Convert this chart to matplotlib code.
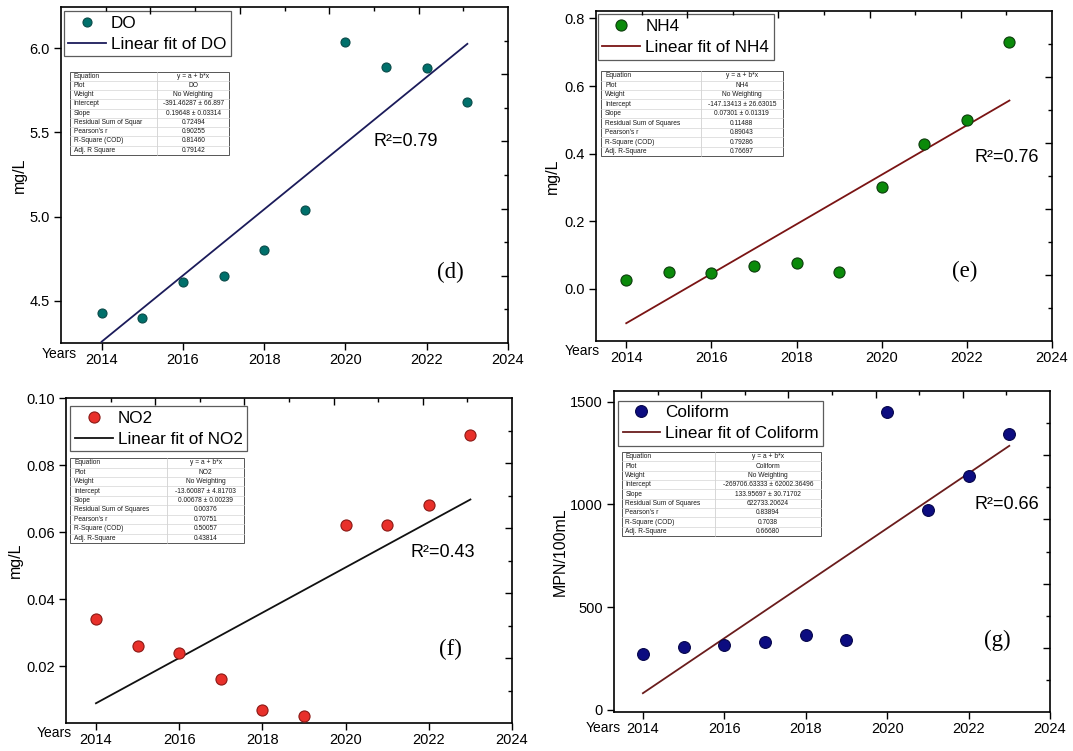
import numpy as np
import matplotlib
matplotlib.use("Agg")
import matplotlib.pyplot as plt
from matplotlib.patches import Rectangle
from matplotlib.ticker import FormatStrFormatter

# ---------------- data ----------------
years = [2014, 2015, 2016, 2017, 2018, 2019, 2020, 2021, 2022, 2023]
do_values = [4.43, 4.40, 4.61, 4.65, 4.80, 5.04, 6.04, 5.89, 5.88, 5.68]
nh4_values = [0.025, 0.051, 0.046, 0.069, 0.077, 0.051, 0.30, 0.43, 0.50, 0.73]
no2_values = [0.034, 0.026, 0.024, 0.016, 0.007, 0.005, 0.062, 0.062, 0.068, 0.089]
coliform_values = [271, 304, 317, 330, 366, 340, 1448, 972, 1137, 1343]

series_names = ["DO", "NH4", "NO2", "Coliform"]
y_titles = ["mg/L", "mg/L", "mg/L", "MPN/100mL"]
r2_labels = ["R²=0.79", "R²=0.76", "R²=0.43", "R²=0.66"]
panel_labels = ["(d)", "(e)", "(f)", "(g)"]
x_ticks = [2014, 2016, 2018, 2020, 2022, 2024]
y_ticks_do = [4.5, 5.0, 5.5, 6.0]
y_ticks_nh4 = [0.0, 0.2, 0.4, 0.6, 0.8]
y_ticks_no2 = [0.02, 0.04, 0.06, 0.08, 0.10]
y_ticks_coliform = [0, 500, 1000, 1500]

table_rows = ["Equation", "Plot", "Weight", "Intercept", "Slope",
              "Residual Sum of Squares", "Pearson's r", "R-Square (COD)",
              "Adj. R-Square"]
do_table_rows = ["Equation", "Plot", "Weight", "Intercept", "Slope",
                 "Residual Sum of Squar", "Pearson's r", "R-Square (COD)",
                 "Adj. R Square"]
do_stats = ["y = a + b*x", "DO", "No Weighting", "-391.46287 ± 66.897",
            "0.19648 ± 0.03314", "0.72494", "0.90255", "0.81460", "0.79142"]
nh4_stats = ["y = a + b*x", "NH4", "No Weighting", "-147.13413 ± 26.63015",
             "0.07301 ± 0.01319", "0.11488", "0.89043", "0.79286", "0.76697"]
no2_stats = ["y = a + b*x", "NO2", "No Weighting", "-13.60087 ± 4.81703",
             "0.00678 ± 0.00239", "0.00376", "0.70751", "0.50057", "0.43814"]
coliform_stats = ["y = a + b*x", "Coliform", "No Weighting",
                  "-269706.63333 ± 62002.36496", "133.95697 ± 30.71702",
                  "622733.20624", "0.83894", "0.7038", "0.66680"]

# ---------------- style / layout ----------------
plt.rcParams['font.family'] = ['Liberation Sans', 'DejaVu Sans']

W, H = 1073, 751
def box(l, r, t, b):
    return [l / W, 1 - b / H, (r - l) / W, (b - t) / H]

panels = [
    dict(vals=do_values, name=series_names[0], ytitle=y_titles[0], r2=r2_labels[0],
         plabel=panel_labels[0], yticks=y_ticks_do, fmt='%.1f',
         pos=box(61, 508, 7, 343), xlim=(2013.0, 2024), ylim=(4.25, 6.245),
         mfc='#00706b', mec='#0a4a48', ms=6.5, lc='#1b1b5a',
         rows=do_table_rows, stats=do_stats,
         leg=(0.006, 0.988), tab=(0.02, 0.56, 0.376, 0.808), split=0.55,
         r2pos=(0.70, 0.60), plpos=(0.87, 0.21), ylab_x=-0.077, years=(-0.005, -0.034)),
    dict(vals=nh4_values, name=series_names[1], ytitle=y_titles[1], r2=r2_labels[1],
         plabel=panel_labels[1], yticks=y_ticks_nh4, fmt='%.1f',
         pos=box(596, 1052, 11, 341), xlim=(2013.29, 2024), ylim=(-0.154, 0.822),
         mfc='#0a8a0a', mec='#0d3d0d', ms=8, lc='#7a1414',
         rows=table_rows, stats=nh4_stats,
         leg=(0.004, 0.99), tab=(0.012, 0.56, 0.409, 0.818), split=0.55,
         r2pos=(0.83, 0.555), plpos=(0.808, 0.21), ylab_x=-0.08, years=(-0.03, -0.030)),
    dict(vals=no2_values, name=series_names[2], ytitle=y_titles[2], r2=r2_labels[2],
         plabel=panel_labels[2], yticks=y_ticks_no2, fmt='%.2f',
         pos=box(66, 512, 398, 723), xlim=(2013.28, 2024), ylim=(0.003, 0.10),
         mfc='#e8302a', mec='#8a1a16', ms=8, lc='#111111',
         rows=table_rows, stats=no2_stats,
         leg=(0.01, 0.975), tab=(0.01, 0.554, 0.40, 0.815), split=0.554,
         r2pos=(0.772, 0.525), plpos=(0.863, 0.225), ylab_x=-0.097, years=(-0.027, -0.030)),
    dict(vals=coliform_values, name=series_names[3], ytitle=y_titles[3], r2=r2_labels[3],
         plabel=panel_labels[3], yticks=y_ticks_coliform, fmt='%d',
         pos=box(614, 1050, 391, 712), xlim=(2013.29, 2024), ylim=(-11, 1552),
         mfc='#0c0c80', mec='#05054a', ms=8.5, lc='#6a1c1c',
         rows=table_rows, stats=coliform_stats,
         leg=(0.009, 0.97), tab=(0.018, 0.548, 0.475, 0.81), split=0.466,
         r2pos=(0.827, 0.645), plpos=(0.879, 0.222), ylab_x=-0.106, years=(-0.024, -0.051)),
]


def draw_table(ax, rows, values, ext, split, fs=4.8):
    x0, y0, x1, y1 = ext
    tr = ax.transAxes
    ax.add_patch(Rectangle((x0, y0), x1 - x0, y1 - y0, transform=tr,
                           facecolor='white', edgecolor='#555555', lw=0.7, zorder=6))
    n = len(rows)
    rh = (y1 - y0) / n
    xs = x0 + split * (x1 - x0)
    ax.plot([xs, xs], [y0, y1], transform=tr, color='#c8c8c8', lw=0.5, zorder=7)
    for i, (r, v) in enumerate(zip(rows, values)):
        yc = y1 - (i + 0.5) * rh
        ax.text(x0 + 0.008, yc, r, transform=tr, fontsize=fs, ha='left',
                va='center', zorder=8, color='#1a1a1a')
        ax.text((xs + x1) / 2, yc, v, transform=tr, fontsize=fs, ha='center',
                va='center', zorder=8, color='#1a1a1a')
        if i > 0:
            yl = y1 - i * rh
            ax.plot([x0, x1], [yl, yl], transform=tr, color='#d4d4d4', lw=0.5, zorder=7)


fig = plt.figure(figsize=(W / 100, H / 100), dpi=100)

x_arr = np.array(years, dtype=float)
for p in panels:
    ax = fig.add_axes(p['pos'])
    y_arr = np.array(p['vals'], dtype=float)
    coef = np.polyfit(x_arr, y_arr, 1)
    xf = np.array([x_arr[0], x_arr[-1]])
    ax.plot(x_arr, y_arr, 'o', ms=p['ms'], mfc=p['mfc'], mec=p['mec'], mew=0.8,
            label=p['name'], zorder=4)
    ax.plot(xf, np.polyval(coef, xf), '-', color=p['lc'], lw=1.3,
            label='Linear fit of ' + p['name'], zorder=3)
    ax.set_xlim(*p['xlim'])
    ax.set_ylim(*p['ylim'])
    ax.set_xticks(x_ticks)
    ax.set_yticks(p['yticks'])
    ax.yaxis.set_major_formatter(FormatStrFormatter(p['fmt']))
    ax.tick_params(direction='out', length=5, width=1, labelsize=10.5,
                   top=False, right=False, pad=3)
    ax.tick_params(axis='x', pad=2.5)
    for s in ax.spines.values():
        s.set_linewidth(1.2)
    ax.set_ylabel(p['ytitle'], fontsize=11.5)
    ax.yaxis.set_label_coords(p['ylab_x'], 0.5)

    leg = ax.legend(loc='upper left', bbox_to_anchor=p['leg'], borderaxespad=0,
                    frameon=True, fancybox=False, edgecolor='#333333',
                    fontsize=12.3, handlelength=2.2, handletextpad=0.3,
                    labelspacing=0.35, borderpad=0.27, numpoints=1)
    leg.get_frame().set_linewidth(0.9)
    leg.set_zorder(9)

    draw_table(ax, p['rows'], p['stats'], p['tab'], p['split'])

    ax.text(p['r2pos'][0], p['r2pos'][1], p['r2'], transform=ax.transAxes,
            fontsize=13, ha='left', va='center')
    ax.text(p['plpos'][0], p['plpos'][1], p['plabel'], transform=ax.transAxes,
            fontsize=16.5, ha='center', va='center', family='Liberation Serif')
    ax.text(p['years'][0], p['years'][1], 'Years', transform=ax.transAxes,
            fontsize=10, ha='center', va='center')

    # secondary layer ticks on top and right (inward)
    ov = fig.add_axes(p['pos'], facecolor='none')
    ov.set_xlim(0, 1)
    ov.set_ylim(0, 1)
    for s in ov.spines.values():
        s.set_visible(False)
    ov.set_xticks([0.2, 0.4, 0.6, 0.8])
    ov.set_xticks([0.1, 0.3, 0.5, 0.7, 0.9], minor=True)
    ov.set_yticks([0.2, 0.4, 0.6, 0.8])
    ov.set_yticks([0.1, 0.3, 0.5, 0.7, 0.9], minor=True)
    ov.tick_params(which='both', direction='in', top=True, right=True,
                   bottom=False, left=False, labeltop=False, labelright=False,
                   labelbottom=False, labelleft=False, width=1)
    ov.tick_params(which='major', length=5)
    ov.tick_params(which='minor', length=3)

fig.savefig('out.png', dpi=100)
